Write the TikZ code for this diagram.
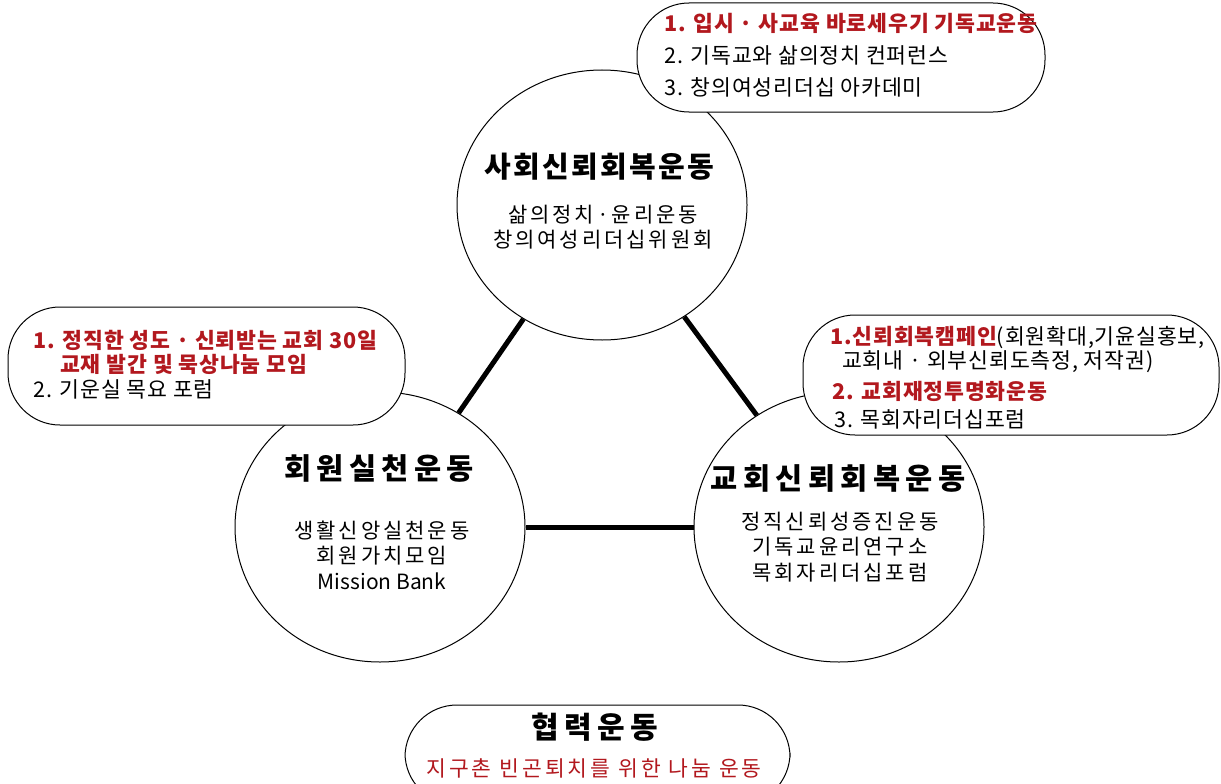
\documentclass[tikz,border=0pt]{standalone}
\usepackage{fontspec}
\usetikzlibrary{shapes.geometric}
\setmainfont{Noto Sans CJK KR}
\newfontfamily\tfont{Noto Sans CJK KR}[LetterSpace=18]
\newfontfamily\tfontn{Noto Sans CJK KR}[LetterSpace=8]
\newfontfamily\sfontk{Noto Sans CJK KR}[LetterSpace=14]
\newfontfamily\cfont{Noto Sans CJK KR}[LetterSpace=4]
\newfontfamily\wfont{Noto Sans CJK KR}[LetterSpace=14]
\definecolor{myred}{RGB}{178,24,30}
\tikzset{
  x=1pt, y=-1pt,
  circ/.style={draw, line width=1pt, ellipse, minimum width=290pt, minimum height=270pt, inner sep=0pt},
  conn/.style={line width=5pt},
  callout/.style={draw, line width=1pt, fill=white, rounded corners=52pt},
  title/.style={font=\tfont\bfseries\fontsize{29.5}{34}\selectfont, inner sep=0pt},
  sub/.style={font=\sfontk\fontsize{21}{25.5}\selectfont, align=center, inner sep=0pt},
  ctext/.style={font=\cfont\fontsize{21.6}{24}\selectfont, anchor=west, inner sep=0pt},
  redb/.style={text=myred, font=\cfont\bfseries\fontsize{21.6}{24}\selectfont},
}
\begin{document}
\begin{tikzpicture}
\useasboundingbox (0,0) rectangle (1221,784);
\clip (0,0) rectangle (1221,784);
\fill[white] (0,0) rectangle (1221,784);
% circles
\node[circ] (T) at (602,205) {};
\node[circ] (L) at (380,527) {};
\node[circ] (R) at (839,527) {};
% connectors
\draw[conn] (T) -- (L);
\draw[conn] (T) -- (R);
\draw[conn] (L) -- (R);
% circle texts
\node[title, font=\tfontn\bfseries\fontsize{29}{34}\selectfont] (Tt) at (599,167) {사회신뢰회복운동};
\node[sub] (Ts) at (603,227) {삶의정치·윤리운동\\창의여성리더십위원회};
\node[title] (Lt) at (379,468) {회원실천운동};
\node[sub] (Ls) at (382,555) {생활신앙실천운동\\회원가치모임\\{\normalfont Mission Bank}};
\node[title] (Rt) at (838,478) {교회신뢰회복운동};
\node[sub] (Rs) at (840,547) {정직신뢰성증진운동\\기독교윤리연구소\\목회자리더십포럼};
% top callout
\draw[callout] (637,3) rectangle (1045,112);
\node[ctext, redb] (t1) at (664,23) {1. 입시 · 사교육 바로세우기 기독교운동};
\node[ctext] (t2) at (664,55) {2. 기독교와 삶의정치 컨퍼런스};
\node[ctext] (t3) at (664,87) {3. 창의여성리더십 아카데미};
% left callout
\draw[callout] (8,307) rectangle (405,425);
\node[ctext, redb] (l1) at (33,340) {1. 정직한 성도 · 신뢰받는 교회 30일};
\node[ctext, redb] (l2) at (60,364) {교재 발간 및 묵상나눔 모임};
\node[ctext] (l3) at (33,389) {2. 기운실 목요 포럼};
% right callout
\draw[callout] (803,315) rectangle (1219,435);
\node[ctext] (r1) at (830,337) {\textcolor{myred}{\bfseries 1.신뢰회복캠페인}(회원확대,기윤실홍보,};
\node[ctext] (r2) at (842,362) {교회내 · 외부신뢰도측정, 저작권)};
\node[ctext, redb] (r3) at (832,391) {2. 교회재정투명화운동};
\node[ctext] (r4) at (834,419) {3. 목회자리더십포럼};
% bottom callout
\draw[callout] (405,705) rectangle (790,805);
\node[title, font=\tfont\bfseries\fontsize{30}{34}\selectfont] (bt) at (595,727) {협력운동};
\node[ctext, anchor=center, text=myred, font=\wfont\fontsize{21.5}{24}\selectfont] (bs) at (594,768) {지구촌 빈곤퇴치를 위한 나눔 운동};
\end{tikzpicture}
\end{document}
